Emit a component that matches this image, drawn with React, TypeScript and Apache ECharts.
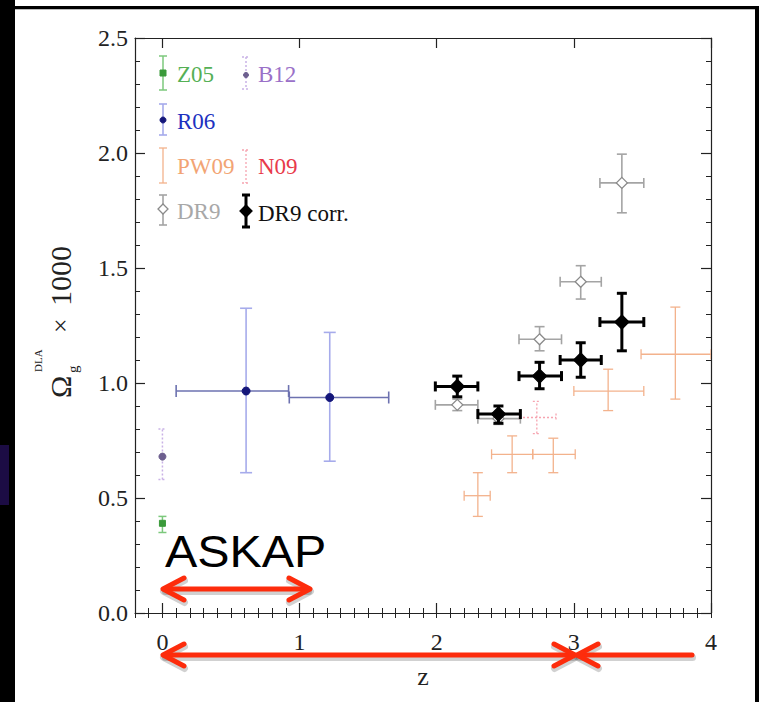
import React, { useEffect, useRef } from 'react';
import * as echarts from 'echarts';

// ---------- axis ticks / labels ----------
const zTickLabels = [0, 1, 2, 3, 4];
const zMin = -0.2;
const zMax = 4;
const omegaMin = 0;
const omegaMax = 2.5;
const omegaInterval = 0.5;

// ---------- data rows: [z, zLo, zHi, omega, omegaLo, omegaHi] ----------
const z05 = [[0, 0, 0, 0.39, 0.35, 0.42]];
const b12 = [[0, 0, 0, 0.68, 0.58, 0.8]];
const r06 = [
  [0.61, 0.1, 0.92, 0.965, 0.61, 1.325],
  [1.22, 0.925, 1.65, 0.937, 0.66, 1.22],
];
const pw09 = [
  [2.3, 2.2, 2.39, 0.51, 0.42, 0.61],
  [2.55, 2.4, 2.7, 0.69, 0.61, 0.77],
  [2.85, 2.7, 3.01, 0.69, 0.61, 0.76],
  [3.25, 3.0, 3.51, 0.965, 0.88, 1.06],
  [3.74, 3.49, 4.0, 1.125, 0.93, 1.33],
];
const n09 = [[2.73, 2.6, 2.87, 0.85, 0.78, 0.92]];
const dr9 = [
  [2.15, 1.99, 2.3, 0.905, 0.88, 0.93],
  [2.45, 2.3, 2.61, 0.845, 0.82, 0.87],
  [2.75, 2.6, 2.91, 1.19, 1.14, 1.245],
  [3.05, 2.9, 3.2, 1.44, 1.365, 1.51],
  [3.35, 3.19, 3.51, 1.87, 1.74, 1.995],
];
const dr9corr = [
  [2.15, 1.99, 2.3, 0.985, 0.94, 1.03],
  [2.45, 2.3, 2.61, 0.865, 0.825, 0.9],
  [2.75, 2.6, 2.91, 1.03, 0.975, 1.09],
  [3.05, 2.9, 3.2, 1.1, 1.025, 1.175],
  [3.35, 3.19, 3.51, 1.265, 1.14, 1.39],
];

const SERIF = '"Liberation Serif", "DejaVu Serif", serif';
const SANS = '"Liberation Sans", Arial, sans-serif';

type Sty = {
  color: string;
  hColor?: string;
  width: number;
  cap: number;
  dash?: number[] | null;
  marker?: 'diamond' | 'circle' | 'square' | 'none';
  mSize?: number;
  mFill?: string;
  mStroke?: string;
};

function markerShape(kind: string, cx: number, cy: number, s: number, fill: string, stroke: string) {
  if (kind === 'diamond') {
    return {
      type: 'polygon',
      shape: { points: [[cx, cy - s], [cx + s, cy], [cx, cy + s], [cx - s, cy]] },
      style: { fill, stroke, lineWidth: 1.3 },
    };
  }
  if (kind === 'circle') {
    return { type: 'circle', shape: { cx, cy, r: s }, style: { fill, stroke, lineWidth: 1 } };
  }
  if (kind === 'square') {
    return { type: 'rect', shape: { x: cx - s, y: cy - s, width: 2 * s, height: 2 * s }, style: { fill, stroke, lineWidth: 1 } };
  }
  return null;
}

function errRenderer(st: Sty) {
  return (params: any, api: any) => {
    const z = api.value(0), zlo = api.value(1), zhi = api.value(2);
    const y = api.value(3), ylo = api.value(4), yhi = api.value(5);
    const c = api.coord([z, y]);
    const children: any[] = [];
    const hs = { stroke: st.hColor || st.color, lineWidth: st.width, lineDash: st.dash || null };
    const vs = { stroke: st.color, lineWidth: st.width, lineDash: st.dash || null };
    if (zhi > zlo) {
      const a = api.coord([zlo, y]);
      const b = api.coord([zhi, y]);
      children.push({ type: 'line', shape: { x1: a[0], y1: c[1], x2: b[0], y2: c[1] }, style: hs });
      children.push({ type: 'line', shape: { x1: a[0], y1: c[1] - st.cap, x2: a[0], y2: c[1] + st.cap }, style: hs });
      children.push({ type: 'line', shape: { x1: b[0], y1: c[1] - st.cap, x2: b[0], y2: c[1] + st.cap }, style: hs });
    }
    if (yhi > ylo) {
      const a = api.coord([z, ylo]);
      const b = api.coord([z, yhi]);
      children.push({ type: 'line', shape: { x1: c[0], y1: a[1], x2: c[0], y2: b[1] }, style: vs });
      children.push({ type: 'line', shape: { x1: c[0] - st.cap, y1: a[1], x2: c[0] + st.cap, y2: a[1] }, style: vs });
      children.push({ type: 'line', shape: { x1: c[0] - st.cap, y1: b[1], x2: c[0] + st.cap, y2: b[1] }, style: vs });
    }
    if (st.marker && st.marker !== 'none') {
      const m = markerShape(st.marker, c[0], c[1], st.mSize || 4, st.mFill || st.color, st.mStroke || st.color);
      if (m) children.push(m);
    }
    return { type: 'group', children };
  };
}

const styles: Record<string, Sty> = {
  pw09: { color: '#f3b28c', width: 1.3, cap: 5 },
  n09: { color: '#f6a4b0', width: 1.3, cap: 4, dash: [2, 2] },
  z05: { color: '#7cc87c', width: 1.5, cap: 4, marker: 'square', mSize: 3, mFill: '#3a9a3a', mStroke: '#3a9a3a' },
  b12: { color: '#c9b2e6', width: 1.5, cap: 4, dash: [2, 2], marker: 'circle', mSize: 3.5, mFill: '#6d5f8f', mStroke: '#6d5f8f' },
  r06: { color: '#a6abeb', hColor: '#6d72b0', width: 1.6, cap: 6, marker: 'circle', mSize: 4, mFill: '#14167a', mStroke: '#14167a' },
  dr9: { color: '#a4a4a4', width: 1.6, cap: 5, marker: 'diamond', mSize: 5.5, mFill: '#ffffff', mStroke: '#8a8a8a' },
  dr9corr: { color: '#000000', width: 3, cap: 5, marker: 'diamond', mSize: 7, mFill: '#000000', mStroke: '#000000' },
};

function errSeries(name: string, data: number[][], st: Sty, z: number) {
  return {
    type: 'custom',
    name,
    xAxisIndex: 0,
    yAxisIndex: 0,
    clip: true,
    z,
    encode: { x: 0, y: 3 },
    renderItem: errRenderer(st),
    data,
  };
}

// ---------- legend (pixel layout) ----------
function legendItem(x: number, yTop: number, yBot: number, yMark: number, st: Sty, label: string, textColor: string, tx: number, ty: number) {
  const els: any[] = [];
  const ls = { stroke: st.color, lineWidth: st.width, lineDash: st.dash || null };
  els.push({ type: 'line', shape: { x1: x, y1: yTop, x2: x, y2: yBot }, style: { ...ls } });
  els.push({ type: 'line', shape: { x1: x - 4, y1: yTop, x2: x + 4, y2: yTop }, style: { ...ls } });
  els.push({ type: 'line', shape: { x1: x - 4, y1: yBot, x2: x + 4, y2: yBot }, style: { ...ls } });
  if (st.marker && st.marker !== 'none') {
    const m = markerShape(st.marker, x, yMark, st.mSize || 4, st.mFill || st.color, st.mStroke || st.color);
    if (m) els.push(m);
  }
  els.push({
    type: 'text',
    x: tx,
    y: ty,
    style: { text: label, fill: textColor, font: `23px ${SERIF}`, textAlign: 'left', textVerticalAlign: 'middle' },
  });
  return els;
}

// ---------- red arrows (pixel layout, with a hand-made soft shadow) ----------
const ARROW_RED = '#fd2c0c';
function arrowParts(segments: number[][][]) {
  const els: any[] = [];
  // shadow first
  for (const pts of segments) {
    els.push({
      type: 'polyline',
      z: 59,
      shape: { points: pts.map((p) => [p[0] + 0.5, p[1] + 2.5]) },
      style: { stroke: 'rgba(0,0,0,0.18)', lineWidth: 7, lineCap: 'round', lineJoin: 'round', fill: null },
    });
  }
  for (const pts of segments) {
    els.push({
      type: 'polyline',
      z: 60,
      shape: { points: pts },
      style: { stroke: ARROW_RED, lineWidth: 5, lineCap: 'round', lineJoin: 'round', fill: null },
    });
  }
  return els;
}
function head(tipX: number, tipY: number, dir: number) {
  return [[tipX - dir * 21, tipY - 11], [tipX, tipY], [tipX - dir * 21, tipY + 11]];
}

export default function App() {
  const ref = useRef<HTMLDivElement>(null);
  useEffect(() => {
    if (!ref.current) return;
    const chart = echarts.init(ref.current, undefined, { renderer: 'svg' });

    const zMinor: number[] = [];
    for (let i = -2; i <= 40; i++) zMinor.push(i / 10);

    const baseX = {
      type: 'value',
      min: zMin,
      max: zMax,
      splitLine: { show: false },
      axisLine: { show: true, onZero: false, lineStyle: { color: '#222', width: 1.2 } },
    };
    const baseY = {
      type: 'value',
      min: omegaMin,
      max: omegaMax,
      interval: omegaInterval,
      splitLine: { show: false },
      axisLine: { show: true, onZero: false, lineStyle: { color: '#222', width: 1.2 } },
      axisTick: { show: true, inside: true, length: 10, lineStyle: { color: '#222', width: 1.2 } },
      minorTick: { show: true, splitNumber: 5, length: 5, lineStyle: { color: '#222', width: 1 } },
    };

    const legendEls = [
      ...legendItem(163, 56, 90, 73, styles.z05, 'Z05', '#55b055', 177, 74),
      ...legendItem(246, 57, 89, 75, { ...styles.b12, mSize: 2.5 }, 'B12', '#9a70c8', 258, 74),
      ...legendItem(163, 104, 135, 120, { ...styles.r06, mSize: 3 }, 'R06', '#2030c0', 177, 121),
      ...legendItem(163, 148, 183, 165, styles.pw09, 'PW09', '#f2a474', 177, 166),
      ...legendItem(246, 150, 183, 165, styles.n09, 'N09', '#e83a4a', 258, 166),
      ...legendItem(163, 195, 225, 209, { ...styles.dr9, mSize: 5 }, 'DR9', '#a8a8a8', 177, 211),
      ...legendItem(246, 195, 227, 211, { ...styles.dr9corr, mSize: 6 }, 'DR9 corr.', '#111111', 258, 213),
    ];

    const arrows = arrowParts([
      // ASKAP double arrow
      [[165, 589], [308, 589]],
      head(163, 589, -1),
      head(310, 589, 1),
      // 0 -> 3 double arrow
      [[165, 655], [573, 655]],
      head(163, 655, -1),
      head(575, 655, 1),
      // right arrow pointing left to 3
      [[692, 655], [579, 655]],
      head(577, 655, -1),
    ]);

    chart.setOption({
      animation: false,
      backgroundColor: '#ffffff',
      grid: { left: 135, right: 49, top: 38, bottom: 89, containLabel: false },
      xAxis: [
        {
          ...baseX,
          position: 'bottom',
          axisTick: { show: true, inside: true, length: 10, customValues: zTickLabels, lineStyle: { color: '#222', width: 1.2 } },
          axisLabel: {
            show: true,
            customValues: zTickLabels,
            margin: 17,
            color: '#222',
            fontFamily: SERIF,
            fontSize: 24,
            formatter: (v: number) => String(Math.round(v)),
          },
        },
        {
          ...baseX,
          position: 'bottom',
          axisLine: { show: false },
          axisTick: { show: true, inside: true, length: 5, customValues: zMinor, lineStyle: { color: '#222', width: 1 } },
          axisLabel: { show: false },
        },
        {
          ...baseX,
          position: 'top',
          axisTick: { show: true, inside: true, length: 10, customValues: zTickLabels, lineStyle: { color: '#222', width: 1.2 } },
          axisLabel: { show: false },
        },
        {
          ...baseX,
          position: 'top',
          axisLine: { show: false },
          axisTick: { show: true, inside: true, length: 5, customValues: zMinor, lineStyle: { color: '#222', width: 1 } },
          axisLabel: { show: false },
        },
      ],
      yAxis: [
        {
          ...baseY,
          position: 'left',
          axisLabel: {
            show: true,
            margin: 7,
            color: '#222',
            fontFamily: SERIF,
            fontSize: 24,
            formatter: (v: number) => v.toFixed(1),
          },
        },
        {
          ...baseY,
          position: 'right',
          axisLabel: { show: false },
        },
      ],
      series: [
        errSeries('PW09', pw09, styles.pw09, 2),
        errSeries('N09', n09, styles.n09, 3),
        errSeries('Z05', z05, styles.z05, 4),
        errSeries('B12', b12, styles.b12, 4),
        errSeries('R06', r06, styles.r06, 5),
        errSeries('DR9', dr9, styles.dr9, 6),
        errSeries('DR9 corr.', dr9corr, styles.dr9corr, 7),
      ],
      graphic: [
        // frame
        { type: 'rect', shape: { x: 0, y: 0, width: 15, height: 702 }, style: { fill: '#000' }, z: 100 },
        { type: 'rect', shape: { x: 0, y: 445, width: 9, height: 60 }, style: { fill: '#1c0c44' }, z: 101 },
        { type: 'rect', shape: { x: 15, y: 6, width: 744, height: 3 }, style: { fill: '#000' }, z: 100 },
        { type: 'rect', shape: { x: 15, y: 9, width: 744, height: 1 }, style: { fill: '#bbbbbb' }, z: 100 },
        { type: 'rect', shape: { x: 755, y: 6, width: 4, height: 696 }, style: { fill: '#000' }, z: 100 },
        // legend
        { type: 'group', z: 50, children: legendEls },
        // axis title z
        {
          type: 'text',
          x: 423,
          y: 676,
          z: 50,
          style: { text: 'z', fill: '#222', font: `26px ${SERIF}`, textAlign: 'center', textVerticalAlign: 'middle' },
        },
        // y axis title
        {
          type: 'group',
          x: 60,
          y: 398,
          rotation: Math.PI / 2,
          z: 50,
          children: [
            { type: 'text', x: 0, y: 0, style: { text: 'Ω', fill: '#222', font: `30px ${SERIF}`, textAlign: 'left', textVerticalAlign: 'middle' } },
            { type: 'text', x: 26, y: -22, style: { text: 'DLA', fill: '#222', font: `11px ${SERIF}`, textAlign: 'left', textVerticalAlign: 'middle' } },
            { type: 'text', x: 25, y: 13, style: { text: 'g', fill: '#222', font: `15px ${SERIF}`, textAlign: 'left', textVerticalAlign: 'middle' } },
            { type: 'text', x: 65, y: 0, style: { text: '×', fill: '#222', font: `26px ${SERIF}`, textAlign: 'left', textVerticalAlign: 'middle' } },
            { type: 'text', x: 92, y: 0, style: { text: '1000', fill: '#222', font: `30px ${SERIF}`, textAlign: 'left', textVerticalAlign: 'middle' } },
          ],
        },
        // ASKAP annotation
        {
          type: 'text',
          x: 165,
          y: 552,
          scaleX: 1.1,
          z: 60,
          style: { text: 'ASKAP', fill: '#000', font: `44px ${SANS}`, textAlign: 'left', textVerticalAlign: 'middle' },
        },
        // arrows
        { type: 'group', z: 60, children: arrows },
      ],
    });
    return () => chart.dispose();
  }, []);
  return <div ref={ref} style={{ position: 'absolute', left: 0, top: 0, width: 760, height: 702 }} />;
}
